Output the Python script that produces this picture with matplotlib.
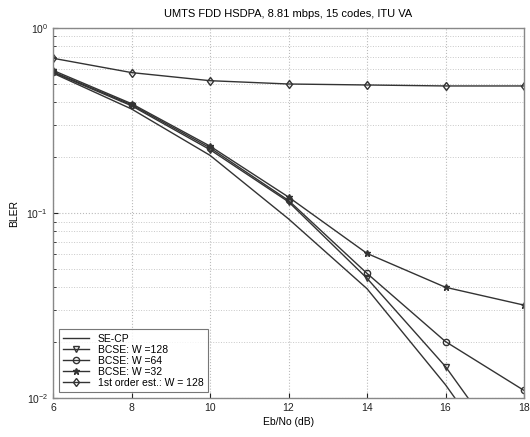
import matplotlib
matplotlib.use("Agg")
import matplotlib.pyplot as plt
from matplotlib.ticker import LogLocator, NullFormatter

plt.rcParams['font.family'] = ['Liberation Sans', 'DejaVu Sans']

ebno = [6, 8, 10, 12, 14, 16, 18]
se_cp = [0.57, 0.365, 0.205, 0.093, 0.039, 0.0118, 0.003]
bcse_128 = [0.575, 0.38, 0.22, 0.115, 0.0444, 0.0148, 0.0038]
bcse_64 = [0.58, 0.385, 0.225, 0.117, 0.0472, 0.0202, 0.011]
bcse_32 = [0.59, 0.39, 0.23, 0.122, 0.0605, 0.0397, 0.0318]
first_order = [0.686, 0.574, 0.519, 0.498, 0.492, 0.486, 0.486]

labels = ["SE-CP", "BCSE: W =128", "BCSE: W =64", "BCSE: W =32", "1st order est.: W = 128"]
title = "UMTS FDD HSDPA, 8.81 mbps, 15 codes, ITU VA"
xticks = [6, 8, 10, 12, 14, 16, 18]

fig = plt.figure(figsize=(5.3, 4.37), dpi=100)
ax = fig.add_axes([0.1, 0.089, 0.8887, 0.847])

lc = '#333333'
ax.semilogy(ebno, se_cp, '-', color=lc, lw=1.0, label=labels[0])
ax.semilogy(ebno, bcse_128, '-', color=lc, lw=1.0, marker='v', ms=4.5, mfc='none', mec=lc, label=labels[1])
ax.semilogy(ebno, bcse_64, '-', color=lc, lw=1.0, marker='o', ms=4.5, mfc='none', mec=lc, label=labels[2])
ax.semilogy(ebno, bcse_32, '-', color=lc, lw=1.0, marker='*', ms=4.5, mfc=lc, mec=lc, label=labels[3])
ax.semilogy(ebno, first_order, '-', color=lc, lw=1.0, marker='d', ms=4.5, mfc='none', mec=lc, label=labels[4])

ax.set_xlim(6, 18)
ax.set_ylim(1e-2, 1)
ax.set_xticks(xticks)
ax.yaxis.set_major_locator(LogLocator(base=10, numticks=5))
ax.yaxis.set_minor_locator(LogLocator(base=10, subs=range(2, 10), numticks=20))
ax.yaxis.set_minor_formatter(NullFormatter())
ax.tick_params(which='both', direction='in', labelsize=7.5, colors='#222222')
ax.tick_params(which='minor', length=2)
ax.grid(True, which='major', linestyle=':', color='#bbbbbb', lw=0.8)
ax.grid(True, which='minor', axis='y', linestyle=':', color='#c8c8c8', lw=0.7)
for s in ax.spines.values():
    s.set_color('#888888')
    s.set_linewidth(1.0)

ax.set_title(title, fontsize=8, pad=8)
ax.set_xlabel("Eb/No (dB)", fontsize=7.5, labelpad=3)
ax.set_ylabel("BLER", fontsize=7.5, labelpad=5)

leg = ax.legend(loc='lower left', fontsize=7.5, frameon=True, fancybox=False,
                edgecolor='#555555', borderaxespad=0.6, handlelength=2.5,
                labelspacing=0.1, borderpad=0.4)
leg.get_frame().set_linewidth(0.8)

fig.savefig("out.png", dpi=100)
